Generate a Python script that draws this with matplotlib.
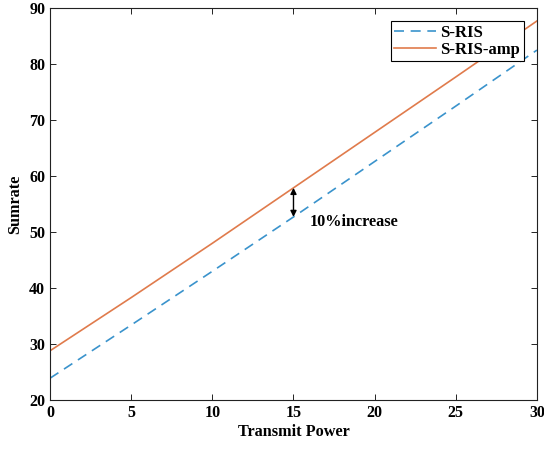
import matplotlib
matplotlib.use("Agg")
import matplotlib.pyplot as plt

power = [0, 5, 10, 15, 20, 25, 30]
s_ris = [23.9, 33.4, 43.0, 52.7, 62.6, 72.5, 82.5]
s_ris_amp = [28.8, 38.3, 48.0, 57.9, 67.8, 77.7, 87.7]
x_ticks = [0, 5, 10, 15, 20, 25, 30]
y_ticks = [20, 30, 40, 50, 60, 70, 80, 90]

plt.rcParams['font.family'] = ['Liberation Serif', 'DejaVu Serif']

fig = plt.figure(figsize=(5.44, 4.5), dpi=100)
ax = fig.add_axes([0.092, 0.111, 0.895, 0.871])

ax.plot(power, s_ris, '--', color='#3a93cc', lw=1.2, dashes=(6, 4), label='S-RIS')
ax.plot(power, s_ris_amp, '-', color='#e07b4c', lw=1.2, label='S-RIS-amp')

ax.set_xlim(0, 30)
ax.set_ylim(20, 90)
ax.set_xticks(x_ticks)
ax.set_yticks(y_ticks)
ax.tick_params(direction='in', top=True, right=True, labelsize=11.5, length=4, width=0.6)
for lbl in ax.get_xticklabels() + ax.get_yticklabels():
    lbl.set_fontweight('bold')
for s in ax.spines.values():
    s.set_linewidth(0.8)
    s.set_color('#222222')

ax.set_xlabel('Transmit Power', fontsize=11.7, fontweight='bold', labelpad=2)
ax.set_ylabel('Sumrate', fontsize=11.7, fontweight='bold', labelpad=4)

ax.annotate('', xy=(15, s_ris_amp[3]), xytext=(15, s_ris[3]),
            arrowprops=dict(arrowstyle='<|-|>', color='black', lw=1.0,
                            mutation_scale=9, shrinkA=0, shrinkB=0))
ax.text(16.0, 51.8, '10%increase', fontsize=11.7, fontweight='bold', va='center', ha='left')

leg = ax.legend(loc='upper right', prop={'weight': 'bold', 'size': 12},
                frameon=True, fancybox=False, edgecolor='black', framealpha=1,
                borderpad=0.2, handlelength=2.5, handletextpad=0.3, labelspacing=0.05,
                borderaxespad=0.8)
leg.get_frame().set_linewidth(0.8)

fig.savefig('out.png', dpi=100)
